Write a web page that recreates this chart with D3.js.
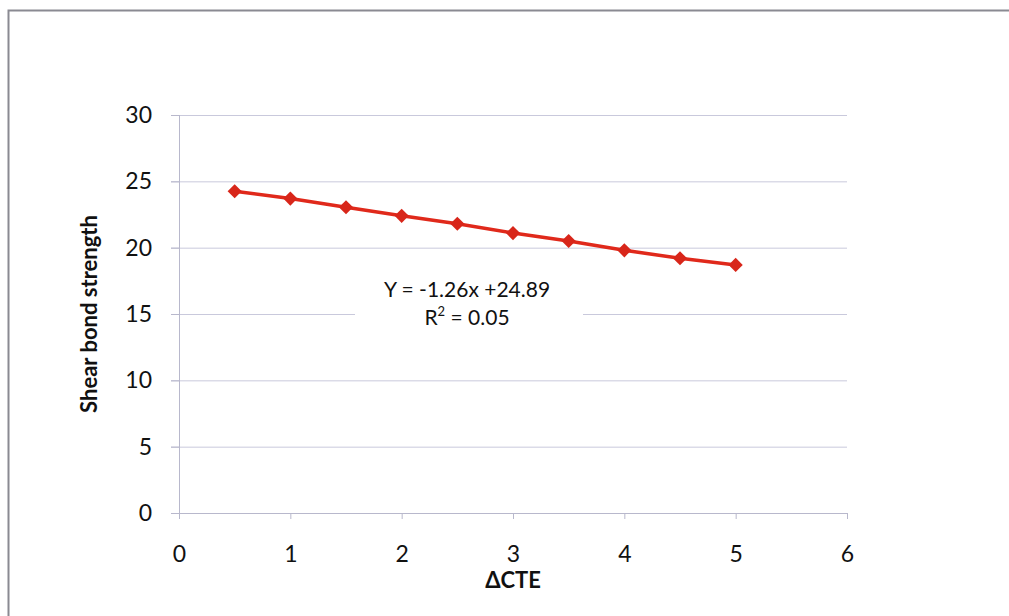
<!DOCTYPE html>
<html>
<head>
<meta charset="utf-8">
<script src="https://cdn.jsdelivr.net/npm/d3@7"></script>
<style>
  body { margin: 0; background: #fff; }
  text { font-family: Lato, "Open Sans", sans-serif; fill: #111; }
</style>
</head>
<body>
<div id="chart"></div>
<script>
// data
const xValues = [0.5, 1, 1.5, 2, 2.5, 3, 3.5, 4, 4.5, 5];
const yValues = [24.25, 23.7, 23.05, 22.4, 21.8, 21.1, 20.5, 19.8, 19.2, 18.7];
const xTicks = [0, 1, 2, 3, 4, 5, 6];
const yTicks = [0, 5, 10, 15, 20, 25, 30];
const equationLines = ["Y = -1.26x +24.89", "R2 = 0.05"];

const width = 1009;
const height = 616;
const margin = { top: 115, right: 162, bottom: 103, left: 179 };
const innerW = width - margin.left - margin.right;
const innerH = height - margin.top - margin.bottom;

const svg = d3.select("#chart")
    .append("svg")
    .attr("width", width)
    .attr("height", height);

// outer frame
svg.append("rect")
    .attr("x", 8.5).attr("y", 10.5)
    .attr("width", width + 20).attr("height", height + 20)
    .attr("fill", "none")
    .attr("stroke", "#8a8a92")
    .attr("stroke-width", 2);

const g = svg.append("g")
    .attr("transform", "translate(" + margin.left + "," + margin.top + ")");

const x = d3.scaleLinear().domain([0, 6]).range([0, innerW]);
const y = d3.scaleLinear().domain([0, 30]).range([innerH, 0]);

// horizontal gridlines
g.selectAll(".grid")
    .data(yTicks.filter(d => d > 0))
    .enter().append("line")
    .attr("class", "grid")
    .attr("x1", -8).attr("x2", innerW)
    .attr("y1", d => y(d) + 0.5).attr("y2", d => y(d) + 0.5)
    .attr("stroke", "#c9c9dc")
    .attr("stroke-width", 1);

// y axis
const yAxis = g.append("g")
    .call(d3.axisLeft(y).tickValues(yTicks).tickSize(8).tickPadding(19));
yAxis.selectAll("text").style("font-size", "23px").style("fill", "#111");
yAxis.selectAll("line").attr("stroke", "#b8b8cc");
yAxis.select(".domain").attr("stroke", "#b8b8cc").attr("d", "M0.5," + innerH + "V0");

// x axis
const xAxis = g.append("g")
    .attr("transform", "translate(0," + innerH + ")")
    .call(d3.axisBottom(x).tickValues(xTicks).tickFormat(d3.format("d")).tickSize(6).tickPadding(27));
xAxis.selectAll("text").style("font-size", "23px").style("fill", "#111");
xAxis.selectAll("line").attr("stroke", "#b8b8cc");
xAxis.select(".domain").attr("stroke", "#b8b8cc").attr("d", "M-8,0.5H" + innerW);

// axis titles
svg.append("text")
    .attr("transform", "translate(97," + (margin.top + innerH / 2) + ") rotate(-90)")
    .attr("text-anchor", "middle")
    .style("font-size", "22px")
    .style("font-weight", "bold")
    .text("Shear bond strength");

svg.append("text")
    .attr("x", margin.left + innerW / 2)
    .attr("y", 588)
    .attr("text-anchor", "middle")
    .style("font-size", "22px")
    .style("font-weight", "bold")
    .text("\u0394CTE");

// equation label with white backing
const eqX = 467;
g.append("rect")
    .attr("x", 355 - margin.left).attr("y", 272 - margin.top)
    .attr("width", 228).attr("height", 60)
    .attr("fill", "#fff");

const eq = g.append("g").attr("transform", "translate(" + (eqX - margin.left) + ",0)");
eq.append("text")
    .attr("x", 0).attr("y", 297 - margin.top)
    .attr("text-anchor", "middle")
    .style("font-size", "21px")
    .text(equationLines[0]);
const r2 = eq.append("text")
    .attr("x", 0).attr("y", 325 - margin.top)
    .attr("text-anchor", "middle")
    .style("font-size", "21px");
r2.append("tspan").text("R");
r2.append("tspan").attr("dy", -9).style("font-size", "13px").text("2");
r2.append("tspan").attr("dy", 9).text(" = 0.05");

// series line
const pts = xValues.map((d, i) => [d, yValues[i]]);
g.append("path")
    .datum(pts)
    .attr("fill", "none")
    .attr("stroke", "#e0291b")
    .attr("stroke-width", 3.5)
    .attr("d", d3.line().x(d => x(d[0])).y(d => y(d[1])));

// diamond markers
g.selectAll(".pt")
    .data(pts)
    .enter().append("path")
    .attr("class", "pt")
    .attr("transform", d => "translate(" + x(d[0]) + "," + y(d[1]) + ") rotate(45)")
    .attr("d", "M-5,-5H5V5H-5Z")
    .attr("fill", "#d8261a");
</script>
</body>
</html>
